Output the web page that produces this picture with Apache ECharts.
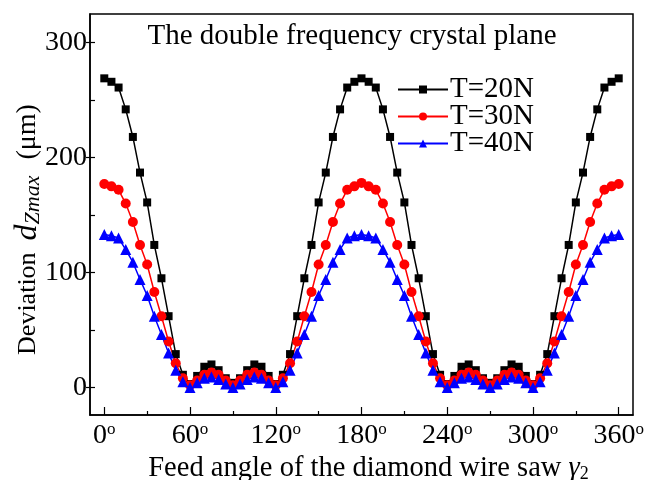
<!DOCTYPE html>
<html><head><meta charset="utf-8">
<script src="https://cdn.jsdelivr.net/npm/echarts@6/dist/echarts.min.js"></script>
<style>html,body{margin:0;padding:0;background:#fff}#c{width:658px;height:480px}</style>
</head><body><div id="c"></div>
<script>
const angles = [0,5,10,15,20,25,30,35,40,45,50,55,60,65,70,75,80,85,90,95,100,105,110,115,120,125,130,135,140,145,150,155,160,165,170,175,180,185,190,195,200,205,210,215,220,225,230,235,240,245,250,255,260,265,270,275,280,285,290,295,300,305,310,315,320,325,330,335,340,345,350,355,360];
const t20 = [269,266,261,242,218,187,161,124,95,62,29,11,3,10,18,20,15,8,4,8,15,20,18,10,3,11,29,62,95,124,161,187,218,242,261,266,269,266,261,242,218,187,161,124,95,62,29,11,3,10,18,20,15,8,4,8,15,20,18,10,3,11,29,62,95,124,161,187,218,242,261,266,269];
const t30 = [177,175,172,160,144,124,107,83,62,40,21,8,2,6,11,13,11,6,2,6,11,13,11,6,2,8,21,40,62,83,107,124,144,160,172,175,178,175,172,160,144,124,107,83,62,40,21,8,2,6,11,13,11,6,2,6,11,13,11,6,2,8,21,40,62,83,107,124,144,160,172,175,177];
const t40 = [133,132,130,120,109,94,80,62,46,30,15,5,0,4,8,9,7,3,0,3,7,9,8,4,0,5,15,30,46,62,80,94,109,120,130,132,133,132,130,120,109,94,80,62,46,30,15,5,0,4,8,9,7,3,0,3,7,9,8,4,0,5,15,30,46,62,80,94,109,120,130,132,133];
const seriesNames = ['T=20N','T=30N','T=40N'];
const xTicks = [0,60,120,180,240,300,360];
const xMinorTicks = [30,90,150,210,270,330];
const yTicks = [0,100,200,300];
const yInnerTicks = [0,50,100,150,200,250,300];
const titleText = 'The double frequency crystal plane';

const F = '"Liberation Serif","Times New Roman",serif';
const pair = ys => angles.map((a,i)=>[a, ys[i]]);
const chart = echarts.init(document.getElementById('c'), null, {renderer:'canvas'});
const axisLine = {show:true, onZero:false, lineStyle:{color:'#000', width:1.5}};
chart.setOption({
  animation:false,
  backgroundColor:'#fff',
  title:{text:titleText, left:352, top:22, padding:0, textAlign:'center', textStyle:{fontFamily:F, fontSize:29, fontWeight:'normal', color:'#000'}},
  legend:{orient:'vertical', left:397, top:75, padding:0, itemWidth:50, itemHeight:10, itemGap:-2,
    textStyle:{fontFamily:F, fontSize:29, color:'#000', lineHeight:26, padding:[0,0,0,-3]}, data:seriesNames},
  grid:{left:90, top:14, right:25, bottom:65, outerBoundsMode:'none', containLabel:false, show:true, borderColor:'#000', borderWidth:1.5, backgroundColor:'transparent'},
  xAxis:[{
    type:'value', min:-10, max:370, position:'bottom',
    axisLine:axisLine,
    axisTick:{show:true, inside:true, length:8, customValues:xTicks, lineStyle:{color:'#000', width:1.2}},
    axisLabel:{customValues:xTicks, margin:6, formatter:v=>'{a|'+v+'}{s|o}',
      rich:{a:{fontFamily:F, fontSize:28, color:'#000'}, s:{fontFamily:F, fontSize:17, color:'#000', verticalAlign:'top', padding:[0,0,12,0]}}},
    splitLine:{show:false},
    name:'{n|Feed angle of the diamond wire saw }{g|γ}{b|2}', nameLocation:'middle', nameGap:30,
    nameTextStyle:{padding:[0,0,0,14], rich:{n:{fontFamily:F, fontSize:28.5, color:'#000'}, g:{fontFamily:F, fontSize:28.5, fontStyle:'italic', color:'#000'}, b:{fontFamily:F, fontSize:18, color:'#000', verticalAlign:'bottom', padding:[9,0,0,0]}}}
  },{
    type:'value', min:-10, max:370, position:'bottom',
    axisLine:{show:false, onZero:false},
    axisTick:{show:true, inside:true, length:4, customValues:xMinorTicks, lineStyle:{color:'#000', width:1.2}},
    axisLabel:{show:false}, splitLine:{show:false}
  }],
  yAxis:[{
    type:'value', min:-24, max:325, position:'left',
    axisLine:axisLine,
    axisTick:{show:true, inside:false, length:4, customValues:yTicks, lineStyle:{color:'#000', width:1.2}},
    axisLabel:{customValues:yTicks, margin:3, fontFamily:F, fontSize:28, color:'#000'},
    splitLine:{show:false},
    name:'{n|Deviation}{d|d}{s|Zmax}{m|(μm)}', nameLocation:'middle', nameRotate:90, nameGap:46, nameMoveOverlap:false,
    nameTextStyle:{padding:[0,0,0,-30], rich:{
      n:{fontFamily:F, fontSize:26, color:'#000', padding:[0,12,0,0]},
      d:{fontFamily:F, fontSize:32, fontStyle:'italic', color:'#000'},
      s:{fontFamily:F, fontSize:22, fontStyle:'italic', color:'#000', padding:[10,0,0,0]},
      m:{fontFamily:F, fontSize:28, color:'#000', padding:[0,0,0,16]}}}
  },{
    type:'value', min:-24, max:325, position:'left',
    axisLine:{show:false, onZero:false},
    axisTick:{show:true, inside:true, length:5, customValues:yInnerTicks, lineStyle:{color:'#000', width:1.2}},
    axisLabel:{show:false}, splitLine:{show:false}
  }],
  series:[
    {name:seriesNames[0], type:'line', data:pair(t20), symbol:'rect', symbolSize:8, itemStyle:{color:'#000'}, lineStyle:{color:'#000', width:1.5}},
    {name:seriesNames[1], type:'line', data:pair(t30), symbol:'circle', symbolSize:10, itemStyle:{color:'#f00'}, lineStyle:{color:'#f00', width:1.5}},
    {name:seriesNames[2], type:'line', data:pair(t40), symbol:'triangle', symbolSize:11, itemStyle:{color:'#0000ff'}, lineStyle:{color:'#0000ff', width:1.5}}
  ]
});
</script></body></html>
